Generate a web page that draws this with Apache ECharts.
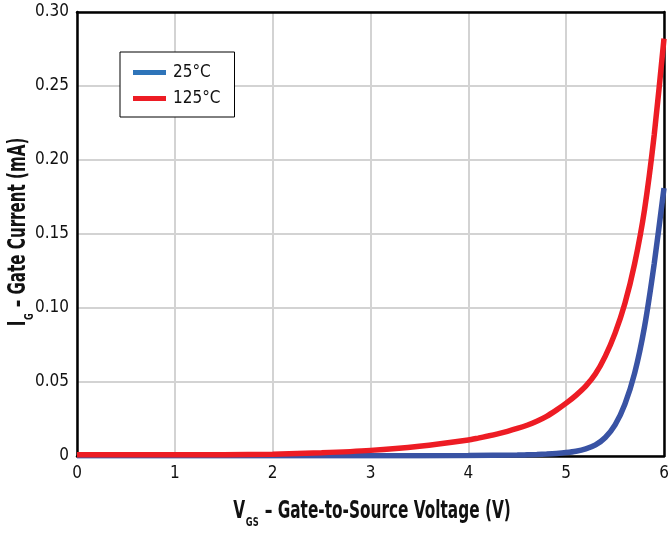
<!DOCTYPE html>
<html>
<head>
<meta charset="utf-8">
<script src="https://cdn.jsdelivr.net/npm/echarts@6/dist/echarts.min.js"></script>
<style>html,body{margin:0;padding:0;background:#fff;}#c{width:668px;height:535px;}</style>
</head>
<body>
<div id="c"></div>
<script>
const vgs125 = [0, 0.5, 1, 1.5, 2, 2.5, 3, 3.5, 4, 4.1, 4.2, 4.3, 4.4, 4.5, 4.6, 4.7, 4.8, 4.9, 5, 5.1, 5.2, 5.3, 5.4, 5.5, 5.6, 5.7, 5.8, 5.9, 6];
const ig125 = [0.0008, 0.0008, 0.0008, 0.0009, 0.0012, 0.0022, 0.0038, 0.0066, 0.0108, 0.0121, 0.0135, 0.015, 0.0167, 0.0186, 0.0208, 0.0235, 0.0268, 0.031, 0.0357, 0.041, 0.0472, 0.0555, 0.0675, 0.083, 0.103, 0.130, 0.166, 0.217, 0.282];
const vgs25 = [0, 1, 2, 3, 4, 4.5, 4.6, 4.7, 4.8, 4.9, 5, 5.1, 5.2, 5.3, 5.4, 5.5, 5.6, 5.7, 5.8, 5.9, 6];
const ig25 = [0.0002, 0.0002, 0.0002, 0.0002, 0.0003, 0.0006, 0.0008, 0.001, 0.0013, 0.0017, 0.0023, 0.0032, 0.0048, 0.0075, 0.0125, 0.021, 0.035, 0.056, 0.087, 0.130, 0.181];
const xTicks = ['0', '1', '2', '3', '4', '5', '6'];
const yTicks = ['0', '0.05', '0.10', '0.15', '0.20', '0.25', '0.30'];
const seriesNames = ['25°C', '125°C'];
const xTitle = ['V', 'GS', ' – Gate-to-Source Voltage (V)'];
const yTitle = ['I', 'G', ' – Gate Current (mA)'];

const font = '"DejaVu Sans Condensed", "DejaVu Sans", sans-serif';
const chart = echarts.init(document.getElementById('c'), null, {renderer: 'canvas'});
const zip = (xs, ys) => xs.map((x, i) => [x, ys[i]]);
const titleRich = {
  b: {fontFamily: font, fontSize: 24, fontWeight: 'bold', fill: '#111', verticalAlign: 'bottom'},
  s: {fontFamily: font, fontSize: 13, fontWeight: 'bold', fill: '#111', verticalAlign: 'bottom', padding: [0, 1, -5, 1]}
};
const frameAxis = {show: true, axisLine: {show: true, onZero: false, lineStyle: {color: '#000', width: 2.5}},
  axisTick: {show: false}, axisLabel: {show: false}, splitLine: {show: false}};

chart.setOption({
  animation: false,
  grid: {left: 77, right: 4, top: 12, bottom: 79, containLabel: false, outerBoundsMode: 'none'},
  legend: {
    left: 120, top: 52, orient: 'vertical',
    backgroundColor: '#fff', borderColor: '#000', borderWidth: 1,
    padding: [12, 14, 10, 13], itemGap: 9, itemWidth: 33, itemHeight: 5,
    icon: 'rect',
    textStyle: {fontFamily: font, fontSize: 17, color: '#111', padding: [0, 0, 0, 2]},
    data: [
      {name: seriesNames[0], itemStyle: {color: '#2E74B9'}},
      {name: seriesNames[1], itemStyle: {color: '#ED1C24'}}
    ]
  },
  xAxis: [{
    type: 'value', min: 0, max: 6, interval: 1,
    axisLine: {show: true, onZero: false, lineStyle: {color: '#000', width: 2.5}}, axisTick: {show: false},
    splitLine: {show: true, lineStyle: {color: '#d3d3d3', width: 2}},
    axisLabel: {fontFamily: font, fontSize: 17, color: '#111', margin: 9, formatter: (v) => xTicks[Math.round(v)]}
  }, Object.assign({type: 'value', min: 0, max: 6, position: 'top'}, frameAxis)],
  yAxis: [{
    type: 'value', min: 0, max: 0.3, interval: 0.05,
    axisLine: {show: true, onZero: false, lineStyle: {color: '#000', width: 2.5}}, axisTick: {show: false},
    splitLine: {show: true, lineStyle: {color: '#d3d3d3', width: 2}},
    axisLabel: {fontFamily: font, fontSize: 17, color: '#111', margin: 8, formatter: (v) => yTicks[Math.round(v / 0.05)]}
  }, Object.assign({type: 'value', min: 0, max: 0.3, position: 'right'}, frameAxis)],
  graphic: [
    {type: 'text', x: 372, y: 512, scaleX: 0.71, z: 10,
     style: {text: '{b|' + xTitle[0] + '}{s|' + xTitle[1] + '}{b|' + xTitle[2] + '}', rich: titleRich, align: 'center', verticalAlign: 'middle'}},
    {type: 'text', x: 19, y: 232, rotation: Math.PI / 2, scaleX: 0.70, z: 10,
     style: {text: '{b|' + yTitle[0] + '}{s|' + yTitle[1] + '}{b|' + yTitle[2] + '}', rich: titleRich, align: 'center', verticalAlign: 'middle'}}
  ],
  series: [
    {name: seriesNames[0], type: 'line', smooth: 0.25, showSymbol: false, data: zip(vgs25, ig25),
     lineStyle: {color: '#3953A4', width: 5.5}, itemStyle: {color: '#2E74B9'}, z: 3},
    {name: seriesNames[1], type: 'line', smooth: 0.25, showSymbol: false, data: zip(vgs125, ig125),
     lineStyle: {color: '#ED1C24', width: 5.5}, itemStyle: {color: '#ED1C24'}, z: 4}
  ]
});
</script>
</body>
</html>
